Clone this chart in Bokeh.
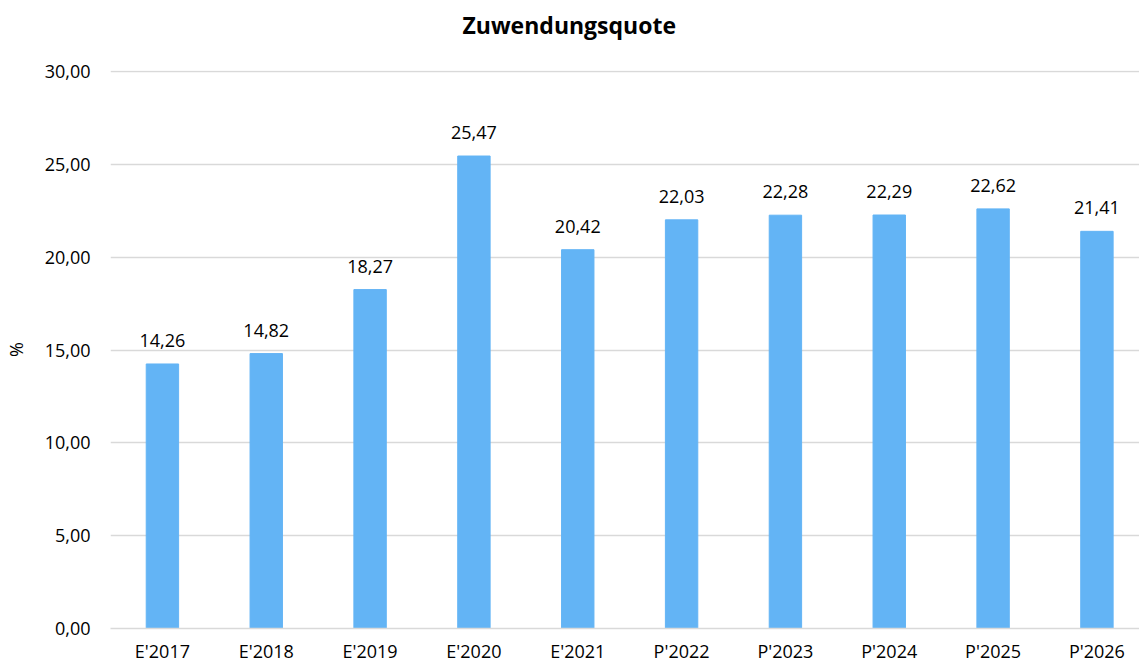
from bokeh.plotting import figure
from bokeh.models import ColumnDataSource, Range1d, FixedTicker, Title, CustomJSTickFormatter
from bokeh.core.properties import value
from bokeh.embed import file_html
from bokeh.resources import INLINE

categories = ["E'2017", "E'2018", "E'2019", "E'2020", "E'2021",
              "P'2022", "P'2023", "P'2024", "P'2025", "P'2026"]
quote = [14.26, 14.82, 18.27, 25.47, 20.42, 22.03, 22.28, 22.29, 22.62, 21.41]
y_ticks = [0, 5, 10, 15, 20, 25, 30]
title_text = "Zuwendungsquote"

FONT = "Open Sans"
xs = list(range(len(categories)))
labels = [f"{v:.2f}".replace(".", ",") for v in quote]
src = ColumnDataSource(dict(x=xs, top=quote, label=labels))

p = figure(width=1139, height=665, output_backend="svg", toolbar_location=None,
           x_range=Range1d(-0.5, 9.41), y_range=Range1d(0, 30.08),
           min_border_left=109, min_border_right=0, min_border_top=70, min_border_bottom=35)
p.outline_line_color = None
p.background_fill_color = "white"

# spacer panel next to the frame, then the real title above it
spacer = Title(text=" ", text_font_size="1px", standoff=27, text_color="white")
p.add_layout(spacer, "above")
t = Title(text=title_text, align="left", offset=352,
          text_font=FONT, text_font_size="23px", text_font_style="bold",
          text_color="black", standoff=0)
p.add_layout(t, "above")

p.vbar(x="x", top="top", width=0.312, source=src, color="#63B4F5")
p.text(x="x", y="top", text="label", source=src, text_align="center",
       text_baseline="bottom", y_offset=-17, text_font=value(FONT),
       text_font_size="18px", text_color="black")

p.xaxis.ticker = FixedTicker(ticks=xs)
p.xaxis.major_label_overrides = {i: c for i, c in enumerate(categories)}
p.xaxis.major_tick_line_color = None
p.xaxis.major_tick_out = 0
p.xaxis.major_tick_in = 0
p.xaxis.minor_tick_line_color = None
p.xaxis.axis_line_color = "#D9D9D9"
p.xaxis.axis_line_width = 1.5
p.xaxis.major_label_standoff = 10
p.xaxis.major_label_text_font = FONT
p.xaxis.major_label_text_font_size = "18px"
p.xaxis.major_label_text_color = "black"
p.xgrid.grid_line_color = None

p.yaxis.ticker = FixedTicker(ticks=y_ticks)
p.yaxis.formatter = CustomJSTickFormatter(code="return tick.toFixed(2).replace('.', ',');")
p.yaxis.axis_line_color = None
p.yaxis.major_tick_line_color = None
p.yaxis.major_tick_out = 0
p.yaxis.major_tick_in = 0
p.yaxis.minor_tick_line_color = None
p.yaxis.major_label_standoff = 20
p.yaxis.major_label_text_font = FONT
p.yaxis.major_label_text_font_size = "18px"
p.yaxis.major_label_text_color = "black"
p.yaxis.axis_label = "%"
p.yaxis.axis_label_text_font = FONT
p.yaxis.axis_label_text_font_size = "18px"
p.yaxis.axis_label_text_font_style = "normal"
p.yaxis.axis_label_text_color = "black"
p.yaxis.axis_label_standoff = 14
p.ygrid.grid_line_color = "#D9D9D9"
p.ygrid.grid_line_width = 1.5

open("out.html", "w").write(file_html(p, INLINE))
